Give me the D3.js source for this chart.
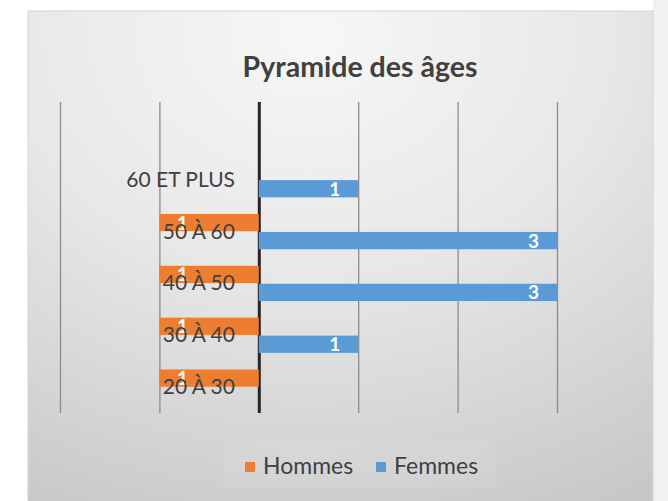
<!DOCTYPE html>
<html>
<head>
<meta charset="utf-8">
<script src="https://cdn.jsdelivr.net/npm/d3@7"></script>
<style>
  body { margin:0; background:#ffffff; }
  svg text { font-family: Lato, "Open Sans", sans-serif; }
</style>
</head>
<body>
<div class="visHolder"></div>
<script>
// donnees du graphique (du bas vers le haut)
var categories=["20 À 30","30 À 40","40 À 50","50 À 60","60 ET PLUS",""];
var hommes=[-1,-1,-1,-1,0,0];
var femmes=[0,1,3,3,1,0];
var seriesNames=["Hommes","Femmes"];
var seriesColors=["#ED7D31","#5B9BD5"];
var xTicks=[-2,-1,0,1,2,3];

var width=668,
    height=501;

var svg=d3.select(".visHolder")
          .append("svg")
          .attr("width",width)
          .attr("height",height);

var defs=svg.append("defs");
var grad=defs.append("radialGradient")
             .attr("id","bg")
             .attr("cx","0.45")
             .attr("cy","0.05")
             .attr("r","1.05");
grad.append("stop").attr("offset","0").attr("stop-color","#f7f7f7");
grad.append("stop").attr("offset","0.45").attr("stop-color","#e8e8e8");
grad.append("stop").attr("offset","1").attr("stop-color","#c8c8c8");

svg.append("rect")
   .attr("x",653).attr("y",0)
   .attr("width",15).attr("height",height)
   .style("fill","#f1f1f1");

svg.append("rect")
   .attr("x",28).attr("y",11)
   .attr("width",625).attr("height",495)
   .style("fill","url(#bg)")
   .style("stroke","#d4d4d4")
   .style("stroke-width",1);

svg.append("text")
   .attr("x",360)
   .attr("y",77)
   .attr("text-anchor","middle")
   .style("font-size","28.5px")
   .style("font-weight","bold")
   .style("fill","#404040")
   .text("Pyramide des âges");

var xScale=d3.scaleLinear()
             .domain([-2,3])
             .range([60,557]);

var yScale=d3.scaleBand()
             .domain(categories.slice().reverse())
             .range([102,413])
             .paddingInner(0.32)
             .paddingOuter(0.16);

var subScale=d3.scaleBand()
               .domain(seriesNames)
               .range([0,yScale.bandwidth()])
               .paddingInner(0.04);

// quadrillage vertical
var xAxis=d3.axisBottom(xScale)
            .tickValues(xTicks)
            .tickSize(-(413-102))
            .tickFormat("");

var grid=svg.append("g")
            .attr("class","grid")
            .attr("transform","translate(0,413)")
            .call(xAxis);
grid.select(".domain").remove();
grid.selectAll(".tick line")
    .style("stroke",function(d){ return d===0 ? "#262626" : "#8c8c8c"; })
    .style("stroke-width",function(d){ return d===0 ? 3 : 1.3; });

var rows=categories.map(function(c,i){
  return {cat:c, values:[hommes[i],femmes[i]]};
});

var groups=svg.selectAll(".row")
              .data(rows)
              .enter()
              .append("g")
              .attr("class","row")
              .attr("transform",function(d){ return "translate(0,"+yScale(d.cat)+")"; });

groups.selectAll("rect")
      .data(function(d){ return d.values.map(function(v,j){ return {v:v, s:j}; }); })
      .enter()
      .append("rect")
      .filter(function(d){ return d.v!==0; })
      .attr("x",function(d){ return xScale(Math.min(0,d.v)); })
      .attr("y",function(d){ return subScale(seriesNames[d.s]); })
      .attr("width",function(d){ return Math.abs(xScale(d.v)-xScale(0)); })
      .attr("height",subScale.bandwidth())
      .style("fill",function(d){ return seriesColors[d.s]; });

groups.selectAll(".lbl")
      .data(function(d){ return d.values.map(function(v,j){ return {v:v, s:j}; }); })
      .enter()
      .filter(function(d){ return d.v!==0; })
      .append("text")
      .attr("class","lbl")
      .attr("x",function(d){ return xScale(d.v) + (d.v<0 ? 23 : -23.5); })
      .attr("y",function(d){ return subScale(seriesNames[d.s])+subScale.bandwidth()/2+7; })
      .attr("text-anchor","middle")
      .style("font-size","19px")
      .style("font-weight","bold")
      .style("fill","#ffffff")
      .text(function(d){ return Math.abs(d.v); });

// etiquettes des categories
svg.selectAll(".cat")
   .data(categories)
   .enter()
   .append("text")
   .attr("class","cat")
   .attr("x",235)
   .attr("y",function(d){ return yScale(d)+yScale.bandwidth()/2+7; })
   .attr("text-anchor","end")
   .style("font-size","21px")
   .style("fill","#404040")
   .text(function(d){ return d; });

// legende
svg.append("rect")
   .attr("x",223).attr("y",442)
   .attr("width",272).attr("height",46)
   .style("fill","#ffffff")
   .style("opacity",0.07);

var legend=svg.selectAll(".legend")
              .data(seriesNames)
              .enter()
              .append("g")
              .attr("class","legend")
              .attr("transform",function(d,i){ return "translate("+(i===0 ? 245 : 376)+",462)"; });

legend.append("rect")
      .attr("width",10)
      .attr("height",10)
      .style("fill",function(d,i){ return seriesColors[i]; });

legend.append("text")
      .attr("x",18)
      .attr("y",12)
      .style("font-size","23px")
      .style("fill","#404040")
      .text(function(d){ return d; });
</script>
</body>
</html>
